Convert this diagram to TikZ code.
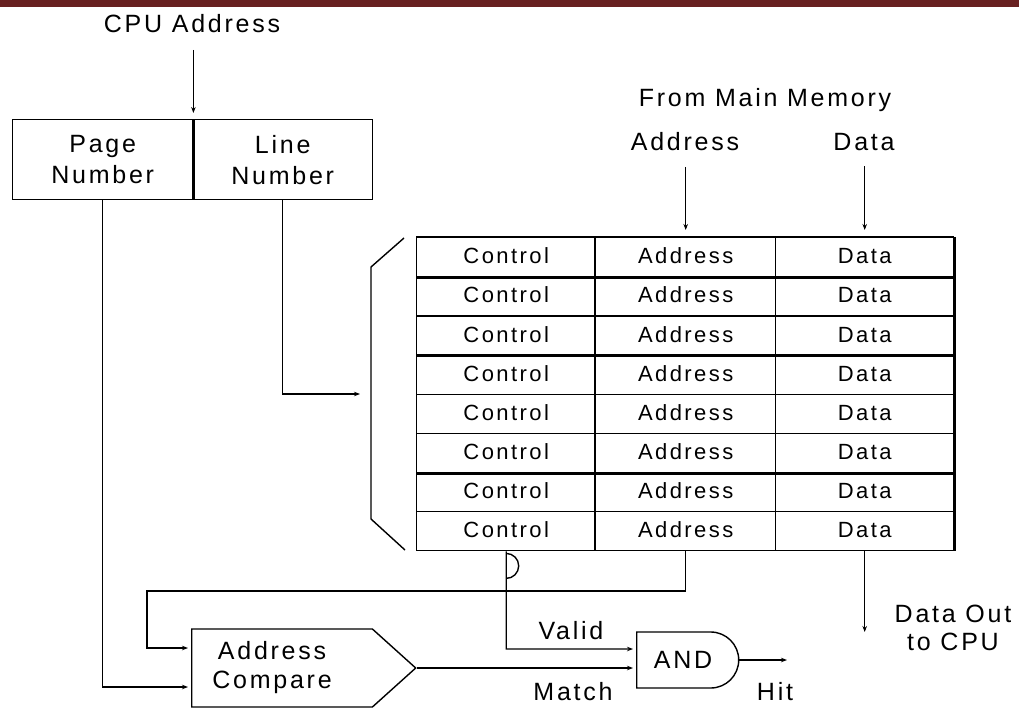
\documentclass[tikz,border=0pt]{standalone}
\usepackage{fontspec}
\setmainfont[LetterSpace=11]{Liberation Sans}
\usetikzlibrary{shapes.symbols,shapes.misc,arrows.meta}
\definecolor{barred}{RGB}{104,33,33}
\begin{document}
\begin{tikzpicture}[x=1pt,y=-1pt, line width=1.4pt,
  lbl/.style={font=\fontsize{25}{31}\selectfont, inner sep=0pt, align=center},
  arr/.style={-{Stealth[length=6pt,width=4.5pt]}},
  cell/.style={draw, minimum height=39.125pt, inner sep=0pt, text height=16pt, text depth=3pt, font=\fontsize{22}{24}\selectfont, anchor=north west},
  heavy/.style={line width=2.8pt},
]
\useasboundingbox (0,0) rectangle (1019,709);
\fill[barred] (0,0) rectangle (1019,7);

% CPU address register
\node[lbl] (cpu) at (192,24) {CPU Address};
\node[draw, minimum width=180pt, minimum height=80pt, anchor=north west, lbl] (page) at (12,119) {Page\\Number};
\node[draw, minimum width=180pt, minimum height=80pt, anchor=north west, lbl] (line) at (192,119) {Line\\Number};
\draw[heavy] (page.north east) -- (page.south east);
\draw[arr, shorten <=16pt, shorten >=6pt] (page.north east |- cpu.south) -- (page.north east);

% cache table
\foreach \i in {1,...,8} {
  \node[cell, minimum width=179pt] (c\i) at (416, {237+(\i-1)*39.125}) {Control};
  \node[cell, minimum width=180pt] (a\i) at (595, {237+(\i-1)*39.125}) {Address};
  \node[cell, minimum width=178pt] (d\i) at (775, {237+(\i-1)*39.125}) {Data};
}
\draw[heavy] (c1.north west) -- (d1.north east);
\draw[heavy] (c1.south west) -- (d1.south east);
\draw[heavy] (c3.south west) -- (d3.south east);
\draw[heavy] (c6.south west) -- (d6.south east);
\draw[heavy] (a1.north west) -- (a8.south west);
\draw[heavy] (d1.north east) -- (d8.south east);

% bracket
\draw (404,238) -- (371,267) -- (371,519) -- (405,550);

% from main memory
\node[lbl] (fmm) at (765,100) {From Main Memory};
\node[lbl] (alab) at (685,142) {Address};
\node[lbl] (dlab) at (864,142) {Data};
\draw[arr, shorten <=15pt, shorten >=7pt] (alab.south -| a1.north) -- (a1.north);
\draw[arr, shorten <=15pt, shorten >=7pt] (dlab.south -| d1.north) -- (d1.north);

% line number selects a line
\coordinate (lnend) at (360,394);
\draw[arr] (line.south) |- (lnend);

% address compare and AND
\node[draw, signal, signal to=east, signal pointer angle=84, minimum width=224pt, minimum height=78pt, inner sep=0pt, anchor=west, lbl, font=\fontsize{25}{29}\selectfont] (comp) at (191,668) {\hspace*{-20pt}Address\\\hspace*{-20pt}Compare};
\node[draw, rounded rectangle, rounded rectangle west arc=none, minimum width=102pt, minimum height=56pt, inner sep=0pt, anchor=west, lbl] (and) at (636,660) {\hspace*{-8pt}AND};

\draw[arr, shorten >=3pt] (page.south) |- ([yshift=-19pt]comp.west);
\draw[arr, shorten >=3pt] (a8.south) |- (147,591) |- ([yshift=20pt]comp.west);
\draw[arr, shorten >=3pt] (c8.south) -- ++(0,27) arc[start angle=90, end angle=-90, radius=12.5] |- ([yshift=11pt]and.west);
\draw[arr, shorten >=3pt] (comp.east) -- (comp.east -| and.west);
\coordinate (hitend) at (787,660);
\draw[arr] (and.east) -- (hitend);
\coordinate (dout) at (864,632);
\draw[arr] (d8.south) -- (d8.south |- dout);

\node[lbl] (valid) at (571,631) {Valid};
\node[lbl] (match) at (573,692) {Match};
\node[lbl] (hit) at (775,692) {Hit};
\node[lbl, font=\fontsize{25}{28}\selectfont] (dataout) at (953,628) {Data Out\\to CPU};
\end{tikzpicture}
\end{document}
